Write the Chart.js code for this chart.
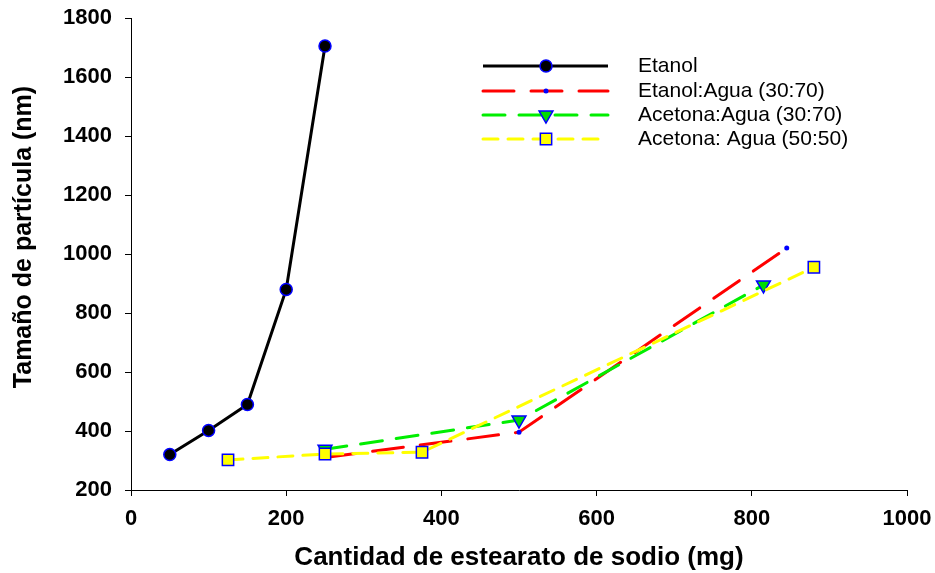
<!DOCTYPE html>
<html>
<head>
<meta charset="utf-8">
<script src="https://cdn.jsdelivr.net/npm/chart.js@4.4.1/dist/chart.umd.min.js"></script>
<style>
  html, body { margin: 0; padding: 0; background: #fff; }
  #wrap { width: 935px; height: 573px; position: relative; }
</style>
</head>
<body>
<div id="wrap"><canvas id="chart"></canvas></div>
<script>
// values
const etanolX = [50, 100, 150, 200, 250];
const etanolY = [320, 402, 490, 880, 1705];

const etanolAguaX = [250, 500, 845];
const etanolAguaY = [310, 396, 1020];

const acetonaAguaX = [250, 500, 815];
const acetonaAguaY = [338, 437, 895];

const acetona5050X = [125, 250, 375, 880];
const acetona5050Y = [302, 322, 328, 955];

const xTicks = [0, 200, 400, 600, 800, 1000];
const yTicks = [200, 400, 600, 800, 1000, 1200, 1400, 1600, 1800];

const seriesNames = ['Etanol', 'Etanol:Agua (30:70)', 'Acetona:Agua (30:70)', 'Acetona: Agua (50:50)'];
const yTitle = 'Tamaño de partícula (nm)';

const fontFamily = '"Liberation Sans", Arial, Helvetica, sans-serif';
const markerBlue = '#0000ff';

const toPoints = (xs, ys) => xs.map((x, i) => ({ x: x, y: ys[i] }));

// legend drawn like the original: long line sample with marker in the middle
const lineLegend = {
    id: 'lineLegend',
    afterDraw: (chart) => {
        const ctx = chart.ctx;
        const rows = [66, 91, 115, 139];
        const x0 = 483, x1 = 608, xm = 546, xt = 638;
        chart.data.datasets.forEach((ds, i) => {
            const y = rows[i];
            ctx.save();
            ctx.strokeStyle = ds.borderColor;
            ctx.lineWidth = ds.borderWidth;
            ctx.lineCap = ds.borderCapStyle || 'butt';
            ctx.setLineDash(ds.borderDash || []);
            ctx.beginPath();
            ctx.moveTo(x0, y);
            ctx.lineTo(x1, y);
            ctx.stroke();
            ctx.setLineDash([]);
            drawMarker(ctx, ds, xm, y);
            ctx.fillStyle = '#000';
            ctx.font = '21px ' + fontFamily;
            ctx.textBaseline = 'middle';
            ctx.textAlign = 'left';
            ctx.fillText(seriesNames[i], xt, y);
            ctx.restore();
        });

        // y axis title, sits a bit above the plot centre in the original
        ctx.save();
        ctx.translate(24, 237);
        ctx.rotate(-Math.PI / 2);
        ctx.fillStyle = '#000';
        ctx.font = 'bold 25px ' + fontFamily;
        ctx.textAlign = 'center';
        ctx.textBaseline = 'middle';
        ctx.fillText(yTitle, 0, 0);
        ctx.restore();
    }
};

function drawMarker(ctx, ds, x, y) {
    const r = ds.pointRadius;
    ctx.fillStyle = ds.pointBackgroundColor;
    ctx.strokeStyle = ds.pointBorderColor;
    ctx.lineWidth = ds.pointBorderWidth;
    ctx.beginPath();
    if (ds.pointStyle === 'rect') {
        const s = Math.SQRT1_2 * r;
        ctx.rect(x - s, y - s, 2 * s, 2 * s);
    } else if (ds.pointStyle === 'triangle') {
        // pointing down (rotation 180)
        ctx.moveTo(x, y + r);
        ctx.lineTo(x - r * Math.sqrt(3) / 2, y - r / 2);
        ctx.lineTo(x + r * Math.sqrt(3) / 2, y - r / 2);
        ctx.closePath();
    } else {
        ctx.arc(x, y, r, 0, Math.PI * 2);
    }
    ctx.fill();
    if (ds.pointBorderWidth > 0) ctx.stroke();
}

new Chart(document.getElementById('chart').getContext('2d'), {
    type: 'scatter',
    data: {
        datasets: [
            {
                label: seriesNames[0],
                data: toPoints(etanolX, etanolY),
                showLine: true,
                borderColor: '#000000',
                borderWidth: 3,
                pointStyle: 'circle',
                pointRadius: 6,
                pointBackgroundColor: '#000000',
                pointBorderColor: markerBlue,
                pointBorderWidth: 1.5,
                order: 0
            },
            {
                label: seriesNames[1],
                data: toPoints(etanolAguaX, etanolAguaY),
                showLine: true,
                borderColor: '#ff0000',
                borderWidth: 3,
                borderDash: [31, 17],
                borderCapStyle: 'round',
                pointStyle: 'circle',
                pointRadius: 2.5,
                pointBackgroundColor: markerBlue,
                pointBorderColor: markerBlue,
                pointBorderWidth: 0,
                order: 3
            },
            {
                label: seriesNames[2],
                data: toPoints(acetonaAguaX, acetonaAguaY),
                showLine: true,
                borderColor: '#00ee00',
                borderWidth: 3,
                borderDash: [22, 14],
                borderCapStyle: 'round',
                pointStyle: 'triangle',
                rotation: 180,
                pointRadius: 8,
                pointBackgroundColor: '#00dd00',
                pointBorderColor: markerBlue,
                pointBorderWidth: 1.5,
                order: 2
            },
            {
                label: seriesNames[3],
                data: toPoints(acetona5050X, acetona5050Y),
                showLine: true,
                borderColor: '#ffff00',
                borderWidth: 3,
                borderDash: [15, 10],
                borderCapStyle: 'round',
                pointStyle: 'rect',
                pointRadius: 8,
                pointBackgroundColor: '#ffff00',
                pointBorderColor: markerBlue,
                pointBorderWidth: 1.5,
                order: 1
            }
        ]
    },
    options: {
        responsive: true,
        maintainAspectRatio: false,
        animation: false,
        layout: { padding: { top: 18, right: 28, left: 0, bottom: 0 } },
        plugins: {
            legend: { display: false },
            tooltip: { enabled: false }
        },
        scales: {
            x: {
                type: 'linear',
                min: 0,
                max: 1000,
                afterBuildTicks: (scale) => { scale.ticks = xTicks.map(v => ({ value: v })); },
                afterFit: (scale) => {
                    scale.height = 83;
                    scale.paddingLeft = 0;
                    scale.paddingRight = 0;
                },
                grid: { drawOnChartArea: false, drawTicks: true, tickLength: 6, color: '#000' },
                border: { display: true, color: '#000', width: 1 },
                ticks: {
                    color: '#000',
                    padding: 10,
                    maxRotation: 0,
                    callback: (v) => String(v),
                    font: { family: fontFamily, size: 22, weight: 'bold' }
                },
                title: {
                    display: true,
                    text: 'Cantidad de estearato de sodio (mg)',
                    color: '#000',
                    padding: { top: 0, bottom: 0 },
                    font: { family: fontFamily, size: 26, weight: 'bold' }
                }
            },
            y: {
                type: 'linear',
                min: 200,
                max: 1800,
                afterBuildTicks: (scale) => { scale.ticks = yTicks.map(v => ({ value: v })); },
                afterFit: (scale) => {
                    scale.width = 131;
                    scale.paddingTop = 0;
                    scale.paddingBottom = 0;
                },
                grid: { drawOnChartArea: false, drawTicks: true, tickLength: 6, color: '#000' },
                border: { display: true, color: '#000', width: 1 },
                ticks: {
                    color: '#000',
                    padding: 13,
                    callback: (v) => String(v),
                    font: { family: fontFamily, size: 22, weight: 'bold' }
                },
                title: { display: false }
            }
        }
    },
    plugins: [lineLegend]
});
</script>
</body>
</html>
